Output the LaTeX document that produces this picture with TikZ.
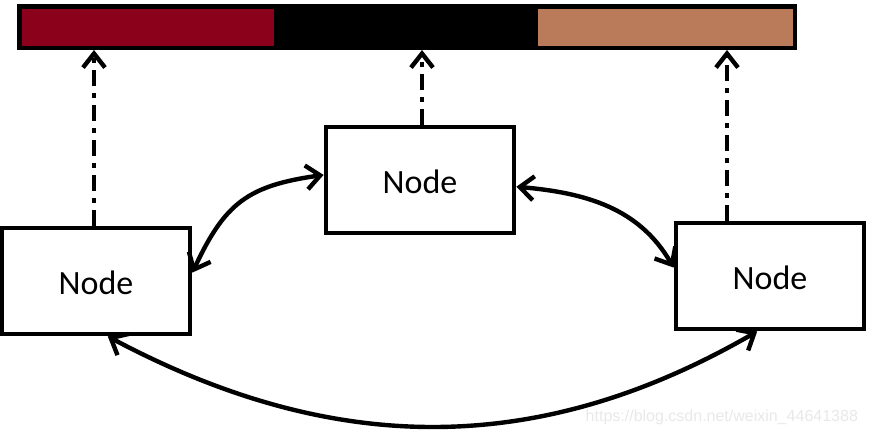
\documentclass[tikz,border=0pt]{standalone}
\usepackage{fontspec}
\setmainfont{Carlito}
\newfontfamily\markfont{Liberation Sans}
\usetikzlibrary{arrows.meta}
\definecolor{barred}{RGB}{139,0,26}
\definecolor{bartan}{RGB}{185,123,90}
\begin{document}
\begin{tikzpicture}[x=0.5pt,y=0.5pt,
	box/.style={draw,line width=2.4pt,minimum width=94pt,minimum height=53pt,inner sep=0pt,
		text height=14pt,font=\fontsize{17}{20}\selectfont},
	link/.style={line width=2.2pt,{Straight Barb[length=7pt,width=12pt]}-{Straight Barb[length=7pt,width=12pt]}},
	upline/.style={line width=2.2pt,-{Straight Barb[length=7pt,width=11pt]},
		dash pattern=on 8pt off 3.5pt on 2.5pt off 3.5pt}]

	\useasboundingbox (0,0) rectangle (873,-438);

	% colour bar
	\fill[black] (17,-4) rectangle (797,-50);
	\fill[barred] (22,-9) rectangle (274,-46);
	\fill[bartan] (538,-9) rectangle (793,-46);
	\coordinate (t1) at (94,-50);
	\coordinate (t2) at (422,-50);
	\coordinate (t3) at (727,-50);

	\node[box] (left)   at (96,-281)  {Node};
	\node[box] (center) at (420,-180) {Node};
	\node[box] (right)  at (770,-276) {Node};

	\draw[upline] (t1 |- left.north) -- (t1);
	\draw[upline] (t2 |- center.north) -- (t2);
	\draw[upline] (t3 |- right.north) -- (t3);

	\draw[link] (left.5) to[out=65,in=188,looseness=1.2] (center.177);
	\draw[link] (center.-4) to[out=-5,in=120] (right.175);
	\draw[link] (left.-78) to[out=-28,in=-150] (right.-103);

	\node[anchor=east,text=black!9,font=\markfont\fontsize{8}{9}\selectfont] (mark) at (865,-417) {https://blog.csdn.net/weixin\_44641388};

\end{tikzpicture}
\end{document}
